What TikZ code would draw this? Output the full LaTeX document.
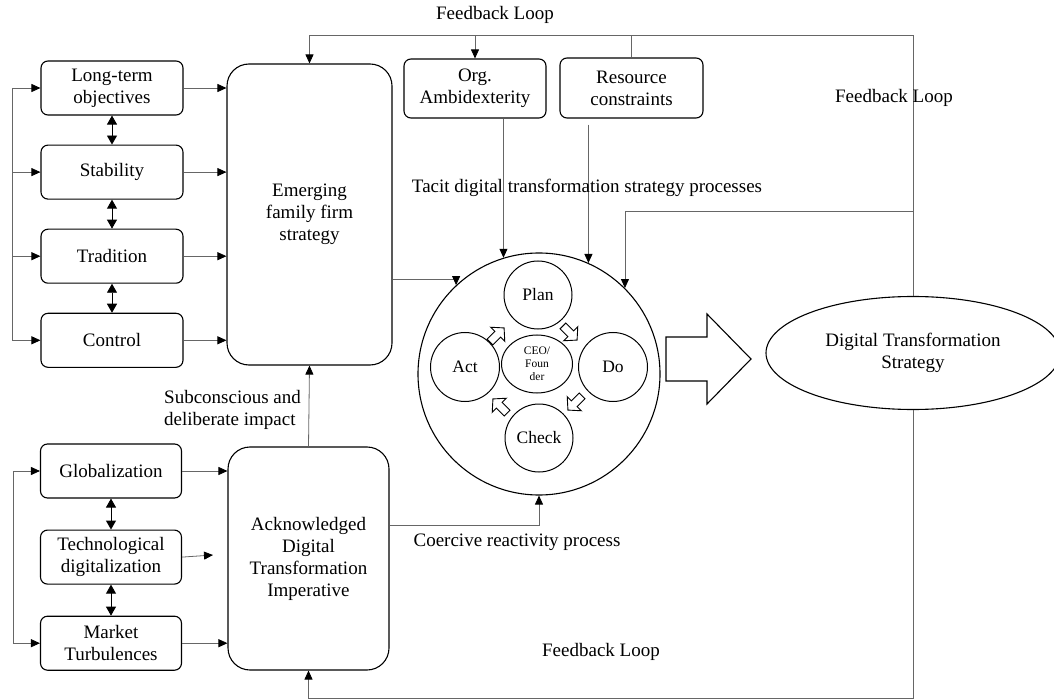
\documentclass[tikz,border=0pt]{standalone}
\usepackage{fontspec}
\setmainfont{Liberation Serif}
\newfontfamily\tnr{Liberation Serif}
\usetikzlibrary{arrows.meta,shapes.geometric,positioning,calc}
\tikzset{
    blockarr/.pic={
        \draw[line width=0.9pt, fill=white] (-10,-4) -- (1,-4) -- (1,-10) -- (10,0)
            -- (1,10) -- (1,4) -- (-10,4) -- cycle;
    }
}

\begin{document}
\begin{tikzpicture}[
    x=1pt, y=-1pt,
    font=\tnr\fontsize{19}{22}\selectfont,
    box/.style={rectangle, rounded corners=7pt, draw, line width=1.1pt, align=center,
                minimum width=142pt, minimum height=54pt, inner sep=2pt},
    bigbox/.style={rectangle, rounded corners=22pt, draw, line width=1.1pt, align=center, inner sep=2pt},
    phase/.style={circle, draw, line width=1pt, minimum size=69pt, inner sep=0pt, font=\tnr\fontsize{17.5}{20}\selectfont},
    link/.style={draw=black!60, line width=0.8pt, -{Triangle[length=9pt,width=8pt,black]}},
    plain/.style={draw=black!60, line width=0.8pt},
    both/.style={draw=black, line width=0.9pt, {Triangle[length=9pt,width=10pt]}-{Triangle[length=9pt,width=10pt]}},
    label/.style={inner sep=0pt},
]
\useasboundingbox (0,0) rectangle (1054,700);

% family firm values
\node[box] (lto) at (112,88) {Long-term\\objectives};
\node[box, below=29pt of lto] (stab) {Stability};
\node[box, below=29pt of stab] (trad) {Tradition};
\node[box, below=29pt of trad] (ctrl) {Control};

% external drivers
\node[box, minimum width=141pt] (glob) at (111,471) {Globalization};
\node[box, minimum width=141pt, below=31pt of glob] (tech) {Technological\\digitalization};
\node[box, minimum width=141pt, below=31pt of tech] (mkt) {Market\\Turbulences};

% strategy boxes
\node[bigbox, minimum width=165pt, minimum height=301pt] (emerg) at (309.5,214.5) {Emerging\\family firm\\strategy};
\node[bigbox, minimum width=161pt, minimum height=223pt] (ack) at (308.5,558.5) {Acknowledged\\Digital\\Transformation\\Imperative};
\node[box, minimum height=59pt] (org) at (475,88.5) {Org.\\Ambidexterity};
\node[box, minimum width=143pt, minimum height=60pt] (res) at (631.5,88) {Resource\\constraints};

% PDCA cycle
\node[circle, draw, line width=1.1pt, minimum size=242pt] (pdca) at (539,374) {};
\node[phase, minimum size=68pt] (plan) at (538,295) {Plan};
\node[phase] (act) at (465,367) {Act};
\node[phase] (do) at (613,367) {Do};
\node[phase, minimum size=68pt] (check) at (539,438) {Check};
\node[ellipse, draw, line width=1pt, minimum width=71pt, minimum height=58pt, inner sep=0pt, align=center,
      font=\tnr\fontsize{11.5}{13}\selectfont] (ceo) at (537,364) {CEO/\\Foun\\der};
\pic[rotate=45] at (497,335) {blockarr};
\pic[rotate=-45] at (570,333) {blockarr};
\pic[rotate=-135] at (575,403) {blockarr};
\pic[rotate=135] at (500,406) {blockarr};

% outcome
\draw[line width=1.1pt] (666,337) -- (707,337) -- (707,314) -- (751,359) -- (707,404) -- (707,381) -- (666,381) -- cycle;
\node[ellipse, draw, line width=1.1pt, minimum width=294pt, minimum height=113pt, align=center] (dts) at (913,353) {Digital Transformation\\Strategy};

% links between the value boxes
\draw[both] (lto.south) -- (stab.north);
\draw[both] (stab.south) -- (trad.north);
\draw[both] (trad.south) -- (ctrl.north);
\draw[both] (glob.south) -- (tech.north);
\draw[both] (tech.south) -- (mkt.north);

% left buses
\draw[plain] ([xshift=-28pt]lto.west) -- ([xshift=-28pt]ctrl.west);
\foreach \n in {lto,stab,trad,ctrl}
    \draw[link] ([xshift=-28pt]\n.west) -- (\n.west);
\draw[plain] ([xshift=-27pt]glob.west) -- ([xshift=-27pt]mkt.west);
\draw[link] ([xshift=-27pt]glob.west) -- (glob.west);
\draw[link] ([xshift=-27pt]mkt.west) -- (mkt.west);

% into the strategy boxes
\foreach \n in {lto,stab,trad,ctrl}
    \draw[link] (\n.east) -- (\n.east -| emerg.west);
\draw[link] (glob.east) -- (glob.east -| ack.west);
\coordinate (techend) at (213,555);
\draw[link] (tech.east) -- (techend);
\draw[link] (mkt.east) -- (mkt.east -| ack.west);
\draw[link] (ack.north) -- (emerg.south);

% into the PDCA cycle
\draw[link] (emerg.east |- 0,279) -| (pdca.133);
\draw[link] (pdca.107 |- org.south) -- (pdca.107);
\draw[link] ([yshift=-6pt]pdca.66 |- res.south) -- (pdca.66);
\draw[link] (ack.east |- 0,525) -| (pdca.south);

% feedback loops
\coordinate (fbtop) at ([yshift=28pt]emerg.north);
\draw[link] (dts.north) |- (fbtop) -- (emerg.north);
\draw[link] (org.north |- fbtop) -- (org.north);
\draw[plain] (res.north |- fbtop) -- (res.north);
\coordinate (fbmid) at (dts.north |- 0,211);
\draw[link] (fbmid) -| (pdca.45);
\coordinate (fbbot) at (ack.south |- 0,698);
\draw[link] (dts.south) |- (fbbot) -- (ack.south);

% labels
\node[label] (fbl1) at (495,15) {Feedback Loop};
\node[label] (fbl2) at (894,98) {Feedback Loop};
\node[label] (fbl3) at (601,652) {Feedback Loop};
\node[label] (tacit) at (587,188) {Tacit digital transformation strategy processes};
\node[label, anchor=west, align=left] (subc) at (164,410) {Subconscious and\\deliberate impact};
\node[label] (coerc) at (517,542) {Coercive reactivity process};
\end{tikzpicture}
\end{document}
